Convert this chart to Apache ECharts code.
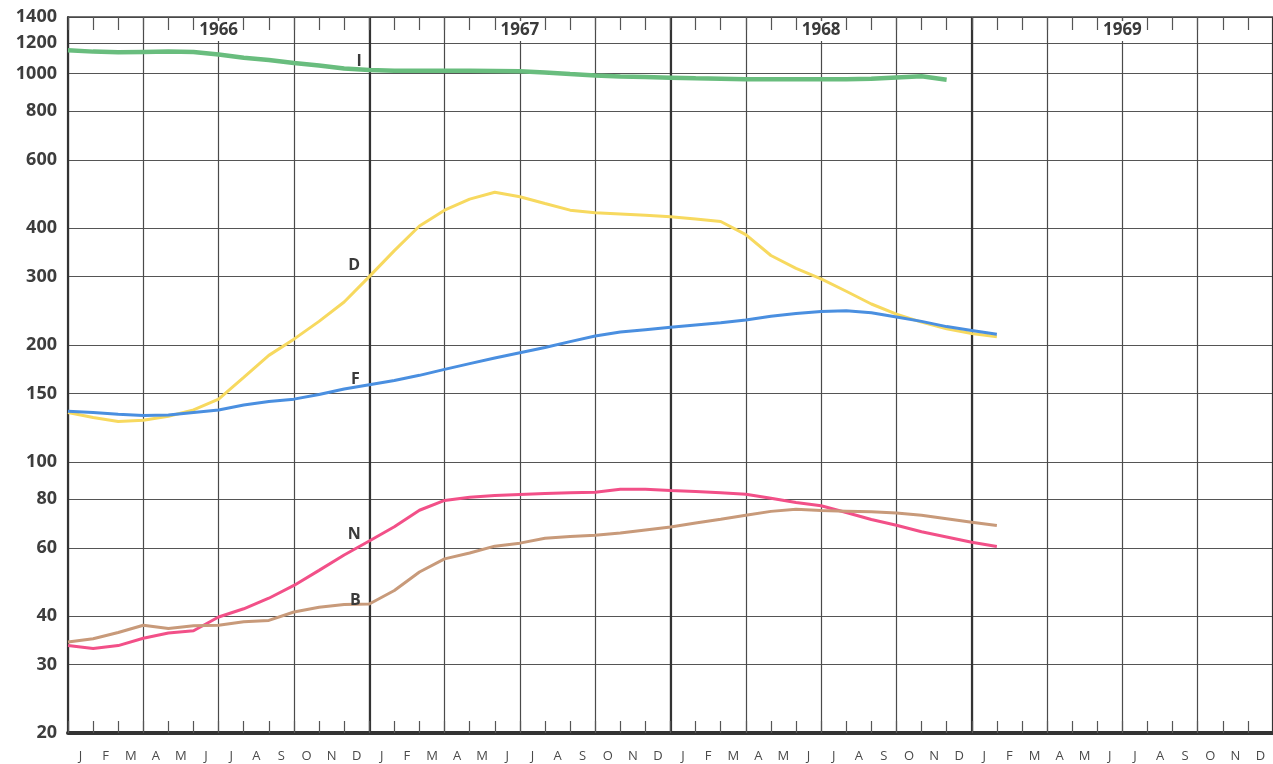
<!DOCTYPE html>
<html lang="en">
<head>
    <meta charset="UTF-8">
    <title>1966 - 1969</title>
    <style>
        html, body { margin: 0; padding: 0; background: #fff; }
        #chart { width: 1273px; height: 764px; }
    </style>
</head>
<body>
<div id="chart"></div>
<script src="https://cdn.jsdelivr.net/npm/echarts@6/dist/echarts.min.js"></script>
<script>
    // month letters and years along the axis
    var monthLetters = ['J', 'F', 'M', 'A', 'M', 'J', 'J', 'A', 'S', 'O', 'N', 'D'];
    var years = ['1966', '1967', '1968', '1969'];
    var yTicks = [20, 30, 40, 60, 80, 100, 150, 200, 300, 400, 600, 800, 1000, 1200, 1400];

    // monthly values, index 0 = start of Jan 1966
    var seriesI = [1150, 1140, 1135, 1138, 1140, 1138, 1120, 1100, 1085, 1065, 1050, 1032,
        1022, 1018, 1017, 1017, 1017, 1016, 1014, 1007, 998, 990, 983, 980,
        977, 973, 970, 967, 967, 967, 967, 967, 970, 978, 985, 965];
    var seriesD = [134, 130, 127, 128, 131, 136, 145, 165, 188, 207, 230, 258,
        300, 350, 405, 445, 475, 495, 482, 463, 445, 438, 435, 432,
        428, 422, 416, 385, 340, 315, 296, 275, 255, 240, 229, 220,
        214, 210];
    var seriesF = [135, 134, 132.5, 131.5, 132, 134, 136, 140, 143, 145, 149, 154,
        158, 162, 167, 173, 179, 185, 191, 197, 204, 211, 216, 219,
        222, 225, 228, 232, 237, 241, 244, 245, 242, 236, 230, 223,
        218, 213];
    var seriesN = [33.6, 33.0, 33.6, 35.1, 36.2, 36.7, 39.8, 41.8, 44.5, 48.0, 52.5, 57.5,
        62.5, 68, 75, 79.5, 81, 81.8, 82.3, 82.8, 83.2, 83.5, 85, 85,
        84.3, 83.8, 83.2, 82.5, 80.5, 78.5, 77, 74, 71, 68.6, 66, 64,
        62, 60.5];
    var seriesB = [34.3, 35.0, 36.3, 37.9, 37.2, 37.8, 37.9, 38.7, 39.0, 41.0, 42.2, 42.9,
        43.0, 46.6, 52, 56.2, 58.2, 60.6, 61.7, 63.5, 64.2, 64.7, 65.5, 66.7,
        67.9, 69.5, 71.1, 72.8, 74.5, 75.4, 74.9, 74.6, 74.3, 73.8, 72.8, 71.3,
        69.8, 68.5];

    // letter tags written next to each curve: [month, value]
    var tagI = [11.6, 1074];
    var tagD = [11.4, 320];
    var tagF = [11.45, 163];
    var tagN = [11.4, 65];
    var tagB = [11.45, 43.8];

    var monthLabels = [];
    years.forEach(function () {
        monthLabels = monthLabels.concat(monthLetters);
    });

    function pairs(arr) {
        return arr.map(function (v, i) { return [i, v]; });
    }

    function tag(text, pos) {
        return {
            symbol: 'circle',
            symbolSize: 0,
            silent: true,
            label: {
                show: true,
                position: 'inside',
                color: '#3a3a3a',
                fontFamily: 'Open Sans',
                fontWeight: 'bold',
                fontSize: 16
            },
            data: [{coord: pos, value: text, label: {formatter: text}}]
        };
    }

    function curve(name, arr, color, width, pos) {
        return {
            name: name,
            type: 'line',
            xAxisIndex: 0,
            yAxisIndex: 0,
            data: pairs(arr),
            symbol: 'none',
            smooth: false,
            lineStyle: {color: color, width: width},
            markPoint: tag(name, pos),
            z: 3
        };
    }

    var chart = echarts.init(document.getElementById('chart'));

    var hidden = {show: false};
    var option = {
        animation: false,
        backgroundColor: '#fff',
        grid: {left: 68, top: 17, width: 1210, height: 716},
        xAxis: [
            {   // quarter grid lines + thick bottom axis
                type: 'value', min: 0, max: 48, interval: 3, position: 'bottom',
                axisLine: {show: true, lineStyle: {color: '#333', width: 4}},
                axisTick: hidden, axisLabel: hidden,
                splitLine: {show: true, lineStyle: {color: '#4a4a4a', width: 1.2}}
            },
            {   // year lines
                type: 'value', min: 0, max: 48, interval: 12, position: 'bottom',
                axisLine: hidden, axisTick: hidden, axisLabel: hidden,
                splitLine: {show: true, lineStyle: {color: '#333', width: 2.2}}
            },
            {   // month ticks at the bottom
                type: 'value', min: 0, max: 48, interval: 1, position: 'bottom',
                axisLine: hidden, axisLabel: hidden, splitLine: hidden,
                axisTick: {show: true, inside: true, length: 12, lineStyle: {color: '#555', width: 1.2}}
            },
            {   // top border with month ticks
                type: 'value', min: 0, max: 48, interval: 1, position: 'top',
                axisLine: {show: true, lineStyle: {color: '#444', width: 1.5}},
                axisLabel: hidden, splitLine: hidden,
                axisTick: {show: true, inside: true, length: 13, lineStyle: {color: '#555', width: 1.2}}
            },
            {   // month letters
                type: 'category', data: monthLabels, position: 'bottom', boundaryGap: true,
                axisLine: hidden, axisTick: hidden, splitLine: hidden,
                axisLabel: {
                    interval: 0, margin: 17, color: '#4a4a4a', fontSize: 13,
                    fontFamily: 'Open Sans'
                }
            },
            {   // year captions inside the top edge
                type: 'category', data: years, position: 'top', boundaryGap: true, z: 10,
                axisLine: hidden, axisTick: hidden, splitLine: hidden,
                axisLabel: {
                    inside: true, interval: 0, margin: 4, color: '#3a3a3a', fontSize: 17,
                    fontWeight: 'bold', fontFamily: 'Open Sans',
                    backgroundColor: '#fff', padding: [1, 3, 2, 3]
                }
            }
        ],
        yAxis: {
            type: 'log',
            logBase: 10,
            min: 20,
            max: 1400,
            axisLine: {show: true, lineStyle: {color: '#333', width: 2}},
            axisTick: {show: false, customValues: yTicks},
            axisLabel: {
                customValues: yTicks,
                margin: 11,
                color: '#3d3d3d',
                fontSize: 18,
                fontWeight: 'bold',
                fontFamily: 'Open Sans',
                formatter: function (v) { return String(Math.round(v)); }
            },
            splitLine: {show: true, lineStyle: {color: '#555', width: 1}}
        },
        series: [
            curve('I', seriesI, '#69bd7e', 4.5, tagI),
            curve('D', seriesD, '#f7d95f', 3, tagD),
            curve('F', seriesF, '#4a8fe0', 3, tagF),
            curve('N', seriesN, '#f25088', 3, tagN),
            curve('B', seriesB, '#c89a7a', 3, tagB)
        ]
    };

    chart.setOption(option);
</script>
</body>
</html>
